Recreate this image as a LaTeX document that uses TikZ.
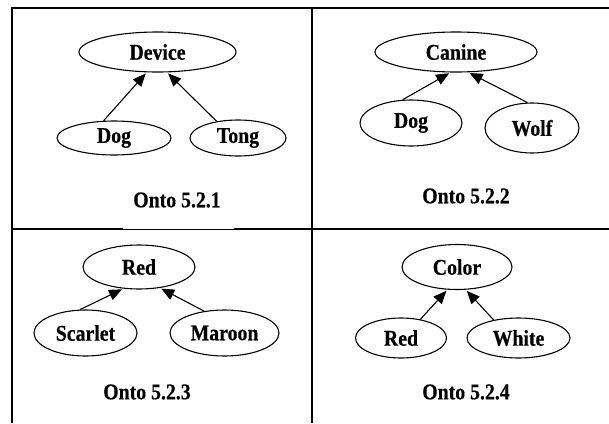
\documentclass[tikz,border=0pt]{standalone}
\usepackage{fontspec}
\newfontfamily\ontofont{Liberation Serif}[FakeStretch=0.88, BoldFeatures={FakeBold=0.4}]
\usetikzlibrary{shapes,arrows.meta}

\begin{document}
\begin{tikzpicture}[x=1pt,y=-1pt,
        concept/.style={ellipse, draw, line width=1.1pt, inner sep=0pt, font=\ontofont\bfseries\fontsize{22.5}{26}\selectfont},
        caption/.style={font=\ontofont\bfseries\fontsize{22.5}{26}\selectfont},
        isa/.style={-{Triangle[length=13pt,width=11pt]}, line width=1.1pt, shorten >=1.5pt},
        rule/.style={line width=1.6pt}]
        \useasboundingbox (0,0) rectangle (609,423);
        % table
        \draw[rule] (609,8) -- (12,8) -- (12,423);
        \draw[rule] (312,8) -- (312,423);
        \draw[rule] (12,229) -- (123,229);
        \draw[line width=0.8pt] (123,229) -- (234,229);
        \draw[rule] (234,229) -- (609,229);
        % Onto 5.2.1
        \node (device) [concept, minimum width=157pt, minimum height=40pt] at (157.5,52) {Device};
        \node (dog1) [concept, minimum width=114pt, minimum height=34pt] at (114,138) {Dog};
        \node (tong) [concept, minimum width=96pt, minimum height=36pt] at (238,138) {Tong};
        \draw[isa] (dog1.121) -- (device.-118);
        \draw[isa] (tong.142) -- (device.-65);
        \node (cap1) [caption] at (177,200) {Onto 5.2.1};
        % Onto 5.2.2
        \node (canine) [concept, minimum width=162pt, minimum height=40pt] at (456,52) {Canine};
        \node (dog2) [concept, minimum width=102pt, minimum height=46pt] at (411,123) {Dog};
        \node (wolf) [concept, minimum width=94pt, minimum height=50pt] at (532,128) {Wolf};
        \draw[isa] (dog2.110) -- (canine.-105);
        \draw[isa] (wolf.100) -- (canine.-59);
        \node (cap2) [caption] at (466,196) {Onto 5.2.2};
        % Onto 5.2.3
        \node (red1) [concept, minimum width=112pt, minimum height=44pt] at (139,267) {Red};
        \node (scarlet) [concept, minimum width=103pt, minimum height=46pt] at (85.5,333) {Scarlet};
        \node (maroon) [concept, minimum width=109pt, minimum height=46pt] at (224.5,333) {Maroon};
        \draw[isa] (scarlet.103) -- (red1.-126);
        \draw[isa] (maroon.133) -- (red1.-45);
        \node (cap3) [caption] at (147,392) {Onto 5.2.3};
        % Onto 5.2.4
        \node (color) [concept, minimum width=110pt, minimum height=45pt] at (457,267) {Color};
        \node (red2) [concept, minimum width=91pt, minimum height=40pt] at (401,338) {Red};
        \node (white) [concept, minimum width=103pt, minimum height=40pt] at (518.5,338) {White};
        \draw[isa] (red2.44) -- (color.-113);
        \draw[isa] (white.144) -- (color.-69);
        \node (cap4) [caption] at (466,392) {Onto 5.2.4};
\end{tikzpicture}
\end{document}
